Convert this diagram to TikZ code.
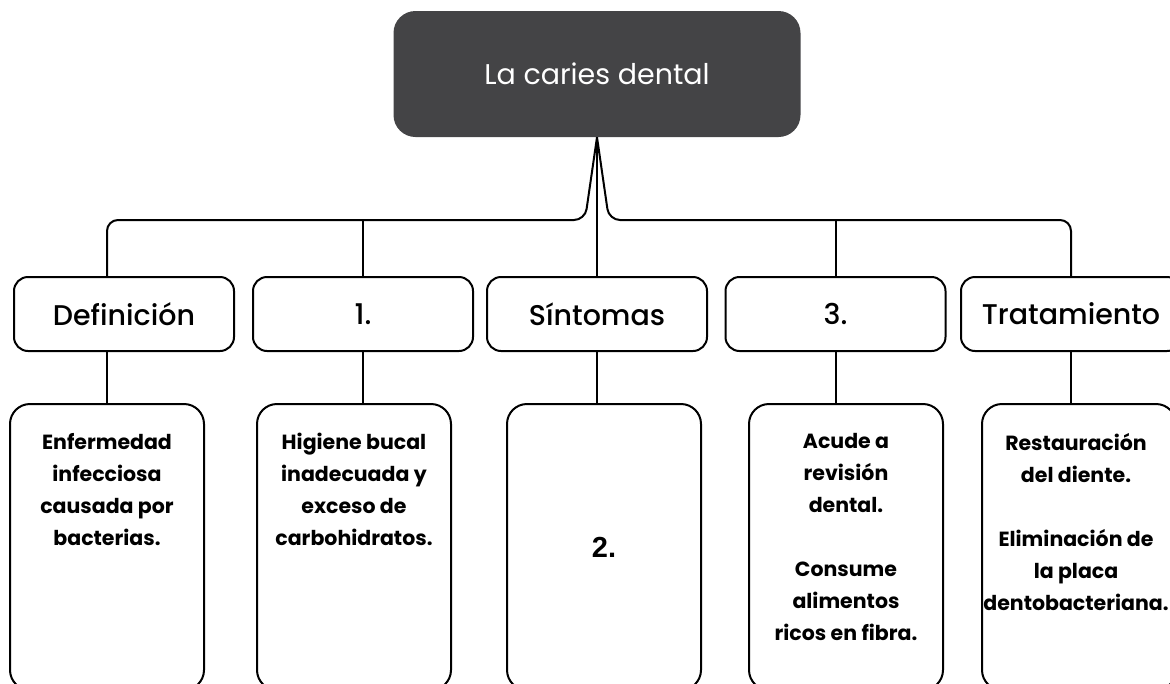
\documentclass[tikz,border=0pt]{standalone}
\usepackage{fontspec}
\setmainfont{Poppins}
\newfontfamily\medio{Poppins Medium}
\newfontfamily\numfont{Liberation Sans}
\usetikzlibrary{positioning}
\definecolor{temagris}{HTML}{444446}
\tikzset{
  tema/.style={rectangle, rounded corners=22pt, fill=temagris, text=white,
    minimum width=407pt, minimum height=126pt, font=\fontsize{28.5}{34}\selectfont},
  apartado/.style={draw, line width=2pt, rounded corners=14pt,
    minimum width=220pt, minimum height=74pt, font=\medio\fontsize{28.5}{34}\selectfont},
  detalle/.style={draw, line width=2pt, rounded corners=20pt,
    minimum width=194pt, minimum height=286pt},
  texto/.style={anchor=north, inner sep=0pt, align=center,
    font=\bfseries\fontsize{20.5}{32}\selectfont},
  rama/.style={line width=2pt},
}
\begin{document}
\begin{tikzpicture}[x=1pt, y=-1pt]
  \useasboundingbox (0,0) rectangle (1170,683);
  \node[tema] (caries) at (597,74) {La caries dental};
  \node[apartado] (def) at (124,314) {Definición};
  \node[apartado] (uno) at (363,314) {1.};
  \node[apartado] (sint) at (597,314) {Síntomas};
  \node[apartado] (tres) at (835.5,314) {3.};
  \node[apartado] (trat) at (1071,314) {Tratamiento};
  \node[detalle] (def-d) at (107,547) {};
  \node[detalle] (uno-d) at (354,547) {};
  \node[detalle] (sint-d) at (604,547) {\numfont\bfseries\fontsize{29}{34}\selectfont 2.};
  \node[detalle] (tres-d) at (846,547) {};
  \node[detalle] (trat-d) at (1079,547) {};
  \node[texto] (def-t) at (107,433) {Enfermedad\\infecciosa\\causada por\\bacterias.};
  \node[texto] (uno-t) at (354,433) {Higiene bucal\\inadecuada y\\exceso de\\carbohidratos.};
  \node[texto] (tres-t) at (846,433) {Acude a\\revisión\\dental.\\[32pt]Consume\\alimentos\\ricos en fibra.};
  \node[texto] (trat-t) at (1076,433) {Restauración\\del diente.\\[32pt]Eliminación de\\la placa\\dentobacteriana.};
  \coordinate (busL) at (585,220);
  \coordinate (busR) at (609,220);
  \draw[rama, rounded corners=11pt] (caries.south) -- (busL) -| (def.north -| def-d.north);
  \draw[rama, rounded corners=11pt] (caries.south) -- (busR) -| (trat.north);
  \draw[rama] (caries.south) -- (sint.north);
  \draw[rama] (uno.north |- busL) -- (uno.north);
  \draw[rama] (tres.north |- busR) -- (tres.north);
  \draw[rama] (def.south -| def-d.north) -- (def-d.north);
  \draw[rama] (uno.south) -- (uno.south |- uno-d.north);
  \draw[rama] (sint.south) -- (sint.south |- sint-d.north);
  \draw[rama] (tres.south) -- (tres.south |- tres-d.north);
  \draw[rama] (trat.south) -- (trat.south |- trat-d.north);
\end{tikzpicture}
\end{document}
